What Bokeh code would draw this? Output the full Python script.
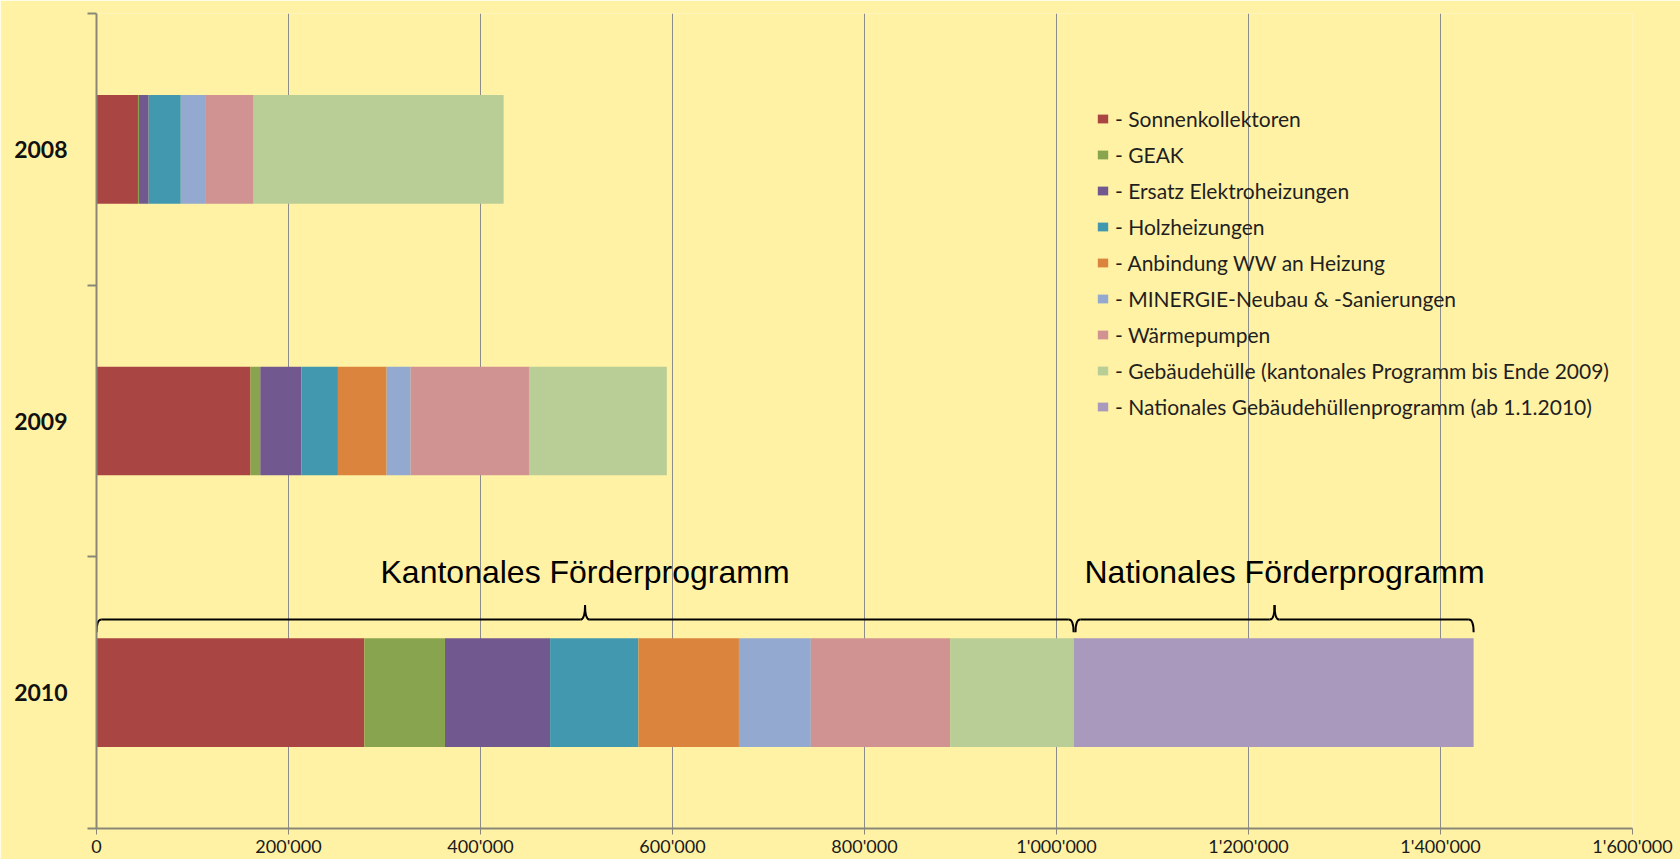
from bokeh.plotting import figure
from bokeh.models import FixedTicker, Range1d, Legend, LegendItem, ColumnDataSource
from bokeh.embed import file_html
from bokeh.resources import INLINE
from bokeh.core.properties import value

# ---------------- data ----------------
years = ["2008", "2009", "2010"]
categories = [
    "Sonnenkollektoren",
    "GEAK",
    "Ersatz Elektroheizungen",
    "Holzheizungen",
    "Anbindung WW an Heizung",
    "MINERGIE-Neubau & -Sanierungen",
    "Wärmepumpen",
    "Gebäudehülle (kantonales Programm bis Ende 2009)",
    "Nationales Gebäudehüllenprogramm (ab 1.1.2010)",
]
sonnenkollektoren = [43200, 160400, 279000]
geak = [1100, 10200, 84000]
ersatz_elektro = [10000, 42800, 109500]
holzheizungen = [33500, 38100, 92000]
anbindung_ww = [0, 50700, 104700]
minergie = [25300, 25100, 74900]
waermepumpen = [50600, 123200, 145100]
gebaeudehuelle_kant = [260400, 143600, 128600]
gebaeudehuelle_nat = [0, 0, 416700]
x_ticks = [0, 200000, 400000, 600000, 800000, 1000000, 1200000, 1400000, 1600000]
annotations = ["Kantonales Förderprogramm", "Nationales Förderprogramm"]

series = [sonnenkollektoren, geak, ersatz_elektro, holzheizungen, anbindung_ww,
          minergie, waermepumpen, gebaeudehuelle_kant, gebaeudehuelle_nat]
colors = ["#A94644", "#89A44E", "#71588F", "#4298AF", "#DB843D",
          "#94A9CF", "#D19392", "#B9CD97", "#A99ABD"]

BG = "#FFF2A5"
GRID = "#8C8C8C"
AX = "#8A8778"

keys = ["s%d" % i for i in range(len(series))]
y_pos = [len(years) - 0.5 - i for i in range(len(years))]
data = {"y": y_pos}
for k, s in zip(keys, series):
    data[k] = s
src = ColumnDataSource(data)

p = figure(width=1680, height=859, output_backend="svg", toolbar_location=None,
           x_range=Range1d(0, x_ticks[-1]), y_range=Range1d(0, len(years)),
           min_border_left=96, min_border_top=13, min_border_right=48, min_border_bottom=0)
p.background_fill_color = BG
p.border_fill_color = BG
p.outline_line_color = None

renderers = p.hbar_stack(keys, y="y", height=0.4, color=colors, source=src, line_color=None)

# axes
p.xaxis.ticker = FixedTicker(ticks=x_ticks)
p.xaxis.major_label_overrides = {t: f"{t:,}".replace(",", "'") for t in x_ticks}
p.xaxis.axis_line_color = AX
p.xaxis.axis_line_width = 2
p.xaxis.major_tick_line_color = AX
p.xaxis.major_tick_out = 6
p.xaxis.major_tick_in = 0
p.xaxis.major_label_standoff = 0
p.xaxis.major_label_text_line_height = 0.8
p.xaxis.major_label_text_font = "Lato"
p.xaxis.major_label_text_font_size = "18px"
p.xaxis.major_label_text_color = "#1A1A1A"

p.yaxis.ticker = FixedTicker(ticks=y_pos, minor_ticks=list(range(len(years) + 1)))
p.yaxis.major_label_overrides = {yp: yr for yp, yr in zip(y_pos, years)}
p.yaxis.axis_line_color = AX
p.yaxis.axis_line_width = 2
p.yaxis.major_tick_out = 0
p.yaxis.major_tick_in = 0
p.yaxis.minor_tick_out = 9
p.yaxis.minor_tick_in = 0
p.yaxis.minor_tick_line_color = AX
p.yaxis.minor_tick_line_width = 2
p.yaxis.major_label_standoff = 20
p.yaxis.major_label_text_font = "Lato"
p.yaxis.major_label_text_font_style = "bold"
p.yaxis.major_label_text_font_size = "23px"
p.yaxis.major_label_text_color = "#111111"

p.xgrid.ticker = FixedTicker(ticks=x_ticks)
p.xgrid.grid_line_color = GRID
p.xgrid.grid_line_width = 1
p.ygrid.grid_line_color = None

# braces
kant_end = sum(s[-1] for s in series[:-1])
nat_end = kant_end + series[-1][-1]
YB, YM, YP, D = 0.722, 0.769, 0.823, 5000


def brace(xs, xe):
    mid = (xs + xe) / 2
    p.quadratic(x0=[xs, mid - D, mid, xe - D], y0=[YB, YM, YP, YM],
                x1=[xs + D, mid, mid + D, xe], y1=[YM, YP, YM, YB],
                cx=[xs, mid, mid, xe], cy=[YM, YM, YM, YM],
                line_color="black", line_width=2)
    p.segment(x0=[xs + D, mid + D], y0=[YM, YM], x1=[mid - D, xe - D], y1=[YM, YM],
              line_color="black", line_width=2)
    return mid


m1 = brace(0, kant_end)
m2 = brace(kant_end + 2000, nat_end)

p.text(x=[m1], y=[0.944], text=[annotations[0]], text_font=value("Liberation Sans"),
       text_font_size="32px", text_align="center", text_baseline="alphabetic", text_color="black")
p.text(x=[m2], y=[0.944], text=[annotations[1]], text_font=value("Liberation Sans"),
       text_font_size="32px", text_align="center", text_baseline="alphabetic", text_color="black",
       x_offset=10)

legend = Legend(items=[LegendItem(label="- " + c, renderers=[r]) for c, r in zip(categories, renderers)],
                location=(1000, 409))
legend.background_fill_alpha = 0
legend.border_line_color = None
legend.label_text_font = "Lato"
legend.label_text_font_size = "21px"
legend.label_text_color = "#1F1F1F"
legend.glyph_width = 13
legend.glyph_height = 11
legend.label_standoff = 6
legend.spacing = 11
legend.padding = 0
legend.margin = 0
p.add_layout(legend)

open("out.html", "w").write(file_html(p, INLINE))
